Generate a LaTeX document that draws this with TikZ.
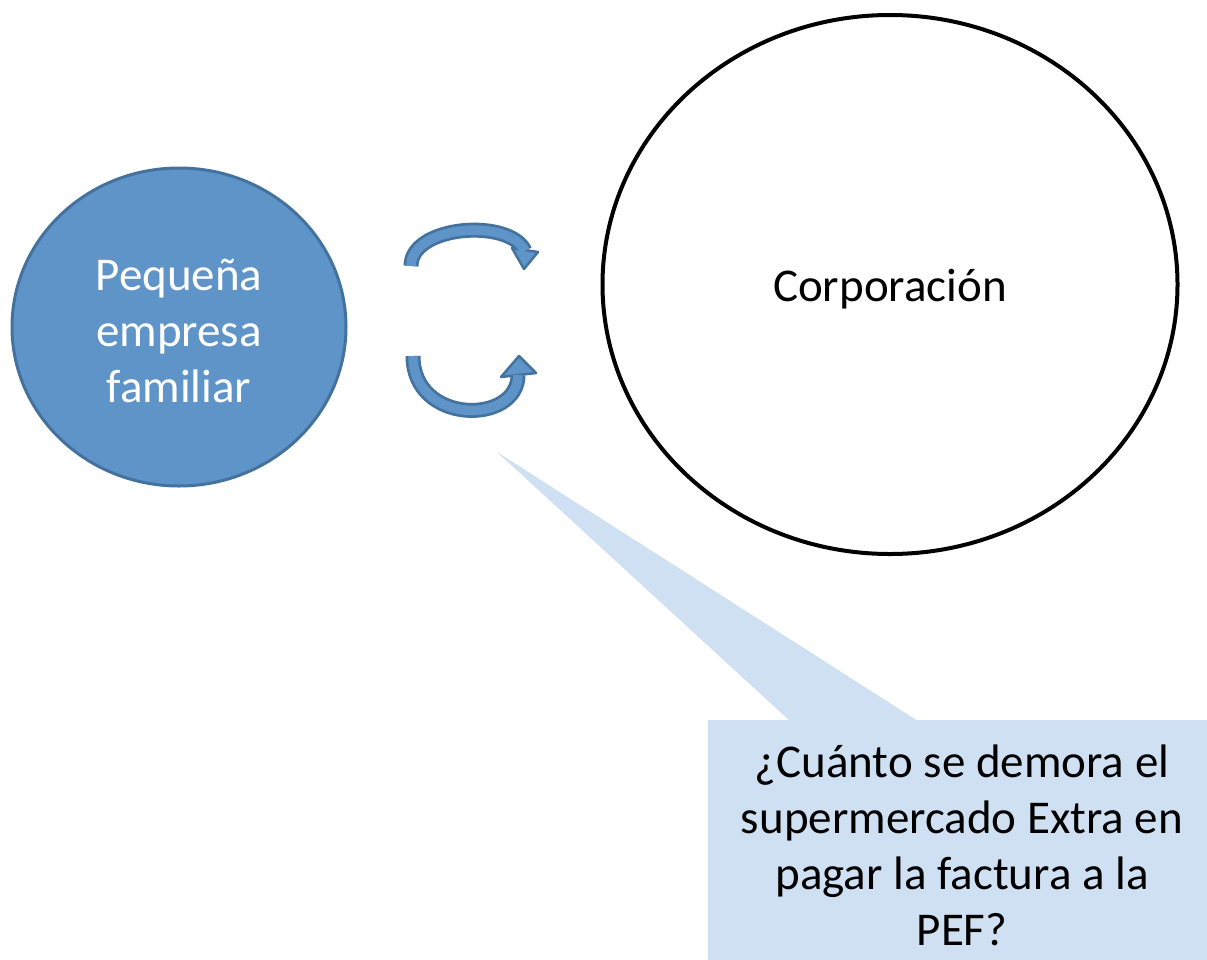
\documentclass[tikz,border=0pt]{standalone}
\usepackage{fontspec}
\setmainfont{Carlito}
\usetikzlibrary{shapes.geometric}

\definecolor{azul}{HTML}{5F94C9}
\definecolor{bordeazul}{HTML}{44729F}
\definecolor{celeste}{HTML}{CFE0F2}

\tikzset{
  texto/.style={font=\fontsize{47}{56}\selectfont, align=center},
  flecha/.style={line width=15pt, draw=bordeazul},
  flechain/.style={line width=9.5pt, draw=azul},
  punta/.style={fill=azul, draw=bordeazul, line width=2.5pt, line join=round}
}

\begin{document}
\begin{tikzpicture}[x=1pt, y=-1pt]
  \useasboundingbox (0,0) rectangle (1207,959);

  % los dos actores
  \node[ellipse, fill=azul, draw=bordeazul, line width=3pt,
        minimum width=334pt, minimum height=318pt,
        label={[texto, text=white, yshift=-4pt]center:Peque\~na\\empresa\\familiar}]
    (pef) at (179,327) {};
  \node[ellipse, draw=black, line width=4pt,
        minimum width=575pt, minimum height=539pt,
        label={[texto, yshift=-5pt]center:Corporaci\'on}]
    (corp) at (890,284.5) {};

  % flecha de arriba
  \coordinate (a1) at (411,266);
  \coordinate (a2) at (525,251);
  \draw[flecha] (a1) .. controls (411,225) and (510,218) .. (a2);
  \draw[punta] (512,248) -- (538,252) -- (524,269) -- cycle;
  \draw[flechain] (a1) .. controls (411,225) and (510,218) .. (a2);

  % flecha de abajo
  \coordinate (b1) at (413,356);
  \coordinate (b2) at (518,375);
  \draw[flecha] (b1) .. controls (413,425) and (518,425) .. (b2);
  \draw[punta] (501,377) -- (536,373) -- (519,356) -- cycle;
  \draw[flechain] (b1) .. controls (413,425) and (518,425) .. (b2);

  % la pregunta
  \coordinate (tip) at (497,452);
  \fill[celeste] (tip) -- (790,721) -- (918,721) -- cycle;
  \node[fill=celeste, minimum width=508pt, minimum height=250pt, texto]
    (nota) at (962,845)
    {¿Cu\'anto se demora el\\supermercado Extra en\\pagar la factura a la\\PEF?};
\end{tikzpicture}
\end{document}
